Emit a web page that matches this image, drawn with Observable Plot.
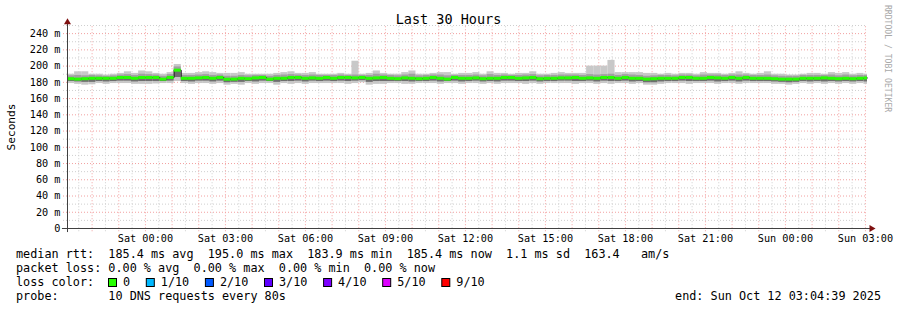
<!DOCTYPE html>
<html><head><meta charset="utf-8">
<script src="https://cdn.jsdelivr.net/npm/d3@7"></script>
<script src="https://cdn.jsdelivr.net/npm/@observablehq/plot@0.6"></script>
<style>
html,body{margin:0;padding:0;background:#fff;}
#chart svg{display:block;}
</style>
</head><body><div id="chart"></div>
<script>
// ---- data (values in ms, one per 16-minute RRD bin, oldest first) ----
const median = [184.5,184,184.5,185,185,185,185,186,186,185,186,186,186,184,186,195,185,185,
 185.5,186,185,186,183.9,184,185,184.5,185.5,186,184,185,185,186,186,185,185.5,185,186,
 185,186,186,185.5,186,185,185.5,186,185,184.5,185.5,185,184.5,185,186,185,184,186,185,
 185,185.5,184.5,185,185,186,186,185,185.5,186,184.5,185,185,185.5,185.5,186,185,185.5,185,186,186,
 185,186,185,185,184,184.5,185,185,185,186,186,185,185,186,185.5,185,186,185,186,185,185,185,184.5,184,184,184,185,185,185,185.5,185,184.5,185,184.5,185,185.4];
const smokeMax = [190,193,193,190,190,189,190,191,193,191,194,193,191,190,192,202,191,191,
 192,193,192,191,191,191,192,190,190,190,190,191,192,193,191,191,192,190,190,
 190,191,190,206,190,191,194,191,190,190,192,194,190,190,191,192,192,190,191,
 191,192,190,193,191,191,190,191,191,193,190,190,191,192,191,191,191,200,200,200,207,
 192,192,192,192,191,191,190,191,190,191,191,190,192,191,191,190,191,193,191,190,191,193,190,190,189,189,190,191,191,190,192,191,192,190,191,190];
const smokeMin = [178.5,177.5,176.5,177,178.5,177.5,178.5,178.5,178.5,177.5,177.5,177.5,178,178.5,178.5,181,178.5,177.5,
 178.5,178.5,177.5,178.5,176.5,177.5,176.5,178.5,177.5,178.5,178.5,176.5,178.5,177.5,178.5,177.5,178.5,178.5,178.5,
 178.5,178.5,177.5,178.5,179.5,176.5,177.5,177.5,178.5,178.5,177.5,177.5,178.5,178.5,178.5,177.5,178.5,178.5,177.5,
 178.5,178.5,177.5,178.5,177.5,178.5,178.5,178.5,177.5,178.5,177.5,178.5,178.5,178.5,178.5,177.5,178.5,178.5,177.5,178.5,177.5,
 178.5,178.5,177.5,178.5,176.5,176.5,177.5,178.5,178.5,178.5,177.5,178.5,178.5,178.5,177.5,178.5,178.5,177.5,178.5,178.5,178.5,178.5,177.5,177.5,176.5,177.5,178.5,177.5,178.5,177.5,178.5,177.5,178.5,177.5,178.5,177.5];
const smokeUpper = [188,188.5,188,188.5,188,187.5,188,189,189.5,188.5,190,189.5,189,187.5,189.5,199,188.5,188.5,
 189,189.5,188.5,189,187.5,187.5,188.5,188,188.5,188.5,187.5,188.5,189,189.5,189,188.5,189,188.5,188.5,
 188.5,189,188.5,189,188.5,188.5,190,189,188.5,188,189,190,188,188.5,189,189,188,188.5,188.5,
 188.5,189,188,189.5,188.5,189,188.5,188.5,189,189.5,188,188.5,188.5,189,189,189,188.5,189.5,189,189.5,190,
 188.5,189.5,189,188.5,187.5,188,188.5,188.5,188,189,189,188,189,189,189,188.5,189,189,189,188.5,188.5,189,188,187.5,187.5,187.5,188.5,188.5,188.5,188.5,189,188,189,188,188.5,188.5];
const smokeLower = [181,180.5,180,180,181,180.5,181,181.5,181.5,180.5,181,181,181,181,181.5,186,181,180.5,
 181.5,181.5,180.5,181.5,179.5,180,180,181,180.5,181.5,181,180,181,181,181.5,180.5,181.5,181,181.5,
 181,181.5,181,181.5,182,180,181,181,181,181,181,180.5,181,181,181.5,180.5,181,181.5,180.5,
 181,181.5,180.5,181,180.5,181.5,181.5,181,181,181.5,180.5,181,181,181.5,181.5,181,181,181.5,180.5,181.5,181,
 181,181.5,180.5,181,179.5,179.5,180.5,181,181,181.5,181,181,181,181.5,180.5,181,181.5,180.5,181.5,181,181,181,180.5,180,179.5,180,181,180.5,181,180.5,181,180.5,181,180.5,181,180.5];

// time, in hours relative to Sat 00:00
const startHour = -(2 + 55/60 + 21/3600);   // Fri 21:04:39
const endHour = 27 + 4/60 + 39/3600;         // Sun 03:04:39
const binMinutes = 16;
const xTickHours = [0,3,6,9,12,15,18,21,24,27];
const xTickLabels = ["Sat 00:00","Sat 03:00","Sat 06:00","Sat 09:00","Sat 12:00","Sat 15:00","Sat 18:00","Sat 21:00","Sun 00:00","Sun 03:00"];
const yTicks = [0,20,40,60,80,100,120,140,160,180,200,220,240];
const yMinorTicks = [10,30,50,70,90,110,130,150,170,190,210,230,250];
const hourGrid = d3.range(-2, 28);
const halfHourGrid = d3.range(-2.5, 27, 1);

const title = "Last 30 Hours";
const yLabel = "Seconds";
const watermark = "RRDTOOL / TOBI OETIKER";
const legendLines = [
  "median rtt:  185.4 ms avg  195.0 ms max  183.9 ms min  185.4 ms now  1.1 ms sd  163.4   am/s",
  "packet loss: 0.00 % avg  0.00 % max  0.00 % min  0.00 % now",
  "loss color:",
  "probe:       10 DNS requests every 80s"
];
const lossLabels = ["0","1/10","2/10","3/10","4/10","5/10","9/10"];
const lossColors = ["#26ff00","#00b8ff","#0059ff","#5e00ff","#7e00ff","#dd00ff","#ff0000"];
const endText = "end: Sun Oct 12 03:04:39 2025";

// ---- build ----
const n = Math.min(median.length, smokeMax.length, smokeMin.length, smokeUpper.length, smokeLower.length);
const rows = d3.range(n).map(i => ({
  t0: startHour + i*binMinutes/60,
  t1: Math.min(startHour + (i+1)*binMinutes/60, endHour),
  med: median[i], lo: smokeMin[i], hi: smokeMax[i], q1: smokeLower[i], q3: smokeUpper[i]
}));
const stepPts = rows.map(r => ({t: r.t0, v: r.med})).concat([{t: endHour, v: median[n-1]}]);

const gridGray = "#cfcfcf", gridRed = "#f2a0a0", axisCol = "#404040", arrowCol = "#7f1010";
const leftExt = startHour - 0.15;

const svg = Plot.plot({
  width: 897, height: 310,
  marginLeft: 67, marginRight: 30, marginTop: 25, marginBottom: 82,
  x: {domain: [startHour, endHour], axis: null},
  y: {domain: [0, 250], axis: null},
  style: {fontFamily: "'DejaVu Sans Mono', monospace", fontSize: "10.2px", background: "#fff", color: "#000", overflow: "visible"},
  marks: [
    Plot.ruleY(yMinorTicks, {x1: leftExt, x2: endHour, stroke: gridGray, strokeDasharray: "1,2"}),
    Plot.ruleX(halfHourGrid, {y1: -4, y2: 250, stroke: gridGray, strokeDasharray: "1,2"}),
    Plot.ruleY(yTicks.filter(d => d > 0), {x1: leftExt, x2: endHour, stroke: gridRed, strokeDasharray: "1,2"}),
    Plot.ruleX(hourGrid, {y1: -4, y2: 250, stroke: gridRed, strokeDasharray: "1,2"}),
    Plot.rect(rows, {x1: "t0", x2: "t1", y1: "lo", y2: "hi", fill: "#c8c8c8"}),
    Plot.rect(rows, {x1: "t0", x2: "t1", y1: "med", y2: "q3", fill: "#a0a0a0"}),
    Plot.rect(rows, {x1: "t0", x2: "t1", y1: "q1", y2: "med", fill: "#6e6e6e"}),
    Plot.line(stepPts, {x: "t", y: "v", curve: "step-after", stroke: "#202020", strokeWidth: 1}),
    Plot.ruleY(rows, {x1: "t0", x2: "t1", y: "med", stroke: lossColors[0], strokeWidth: 3}),
    Plot.ruleX([startHour], {y1: -5, y2: 253, stroke: axisCol}),
    Plot.ruleY([0], {x1: startHour - 0.19, x2: endHour + 0.12, stroke: axisCol}),
    Plot.dot([{t: startHour, v: 254}], {x: "t", y: "v", symbol: "triangle", r: 2.6, fill: arrowCol, stroke: "none"}),
    Plot.dot([{t: endHour + 0.15, v: 0}], {x: "t", y: "v", symbol: "triangle", r: 2.6, rotate: 90, fill: arrowCol, stroke: "none"}),
    Plot.axisY({ticks: yTicks, tickFormat: d => d === 0 ? "0" : `${d} m`, tickSize: 0, tickPadding: 7, fill: "#000"}),
    Plot.axisX({ticks: xTickHours, tickFormat: d => xTickLabels[xTickHours.indexOf(d)], tickSize: 0, tickPadding: 6, fill: "#000"})
  ]
});
document.getElementById("chart").appendChild(svg);

const s = d3.select(svg);
const mono = "'DejaVu Sans Mono', monospace";
s.append("text").attr("x", 448.5).attr("y", 24).attr("text-anchor", "middle")
  .attr("font-family", mono).attr("font-size", "13.5px").attr("fill", "#000").text(title);
s.append("text").attr("transform", "translate(15,127) rotate(-90)").attr("text-anchor", "middle")
  .attr("font-family", mono).attr("font-size", "11.2px").attr("fill", "#000").text(yLabel);
s.append("text").attr("transform", "translate(884.5,5) rotate(90)").attr("text-anchor", "start")
  .attr("font-family", mono).attr("font-size", "8.1px").attr("fill", "#a8a8a8").text(watermark);

const lg = s.append("g").attr("font-family", mono).attr("font-size", "11.8px").attr("fill", "#000")
  .attr("text-anchor", "start").style("white-space", "pre");
const baselines = [258, 272, 286, 300];
legendLines.forEach((t, i) => lg.append("text").attr("x", 16).attr("y", baselines[i]).attr("text-anchor", "start").text(t));
const charW = 7.1;
let bx = 108;
lossLabels.forEach((lab, i) => {
  lg.append("rect").attr("x", bx + 0.5).attr("y", 278.5).attr("width", 8).attr("height", 8)
    .attr("fill", lossColors[i]).attr("stroke", "#000").attr("stroke-width", 1);
  lg.append("text").attr("x", bx + 15).attr("y", baselines[2]).attr("text-anchor", "start").text(lab);
  bx = bx + 15 + (lab.length + 2) * charW + 1.5;
});
lg.append("text").attr("x", 881).attr("y", baselines[3]).attr("text-anchor", "end").text(endText);
</script>
</body></html>
